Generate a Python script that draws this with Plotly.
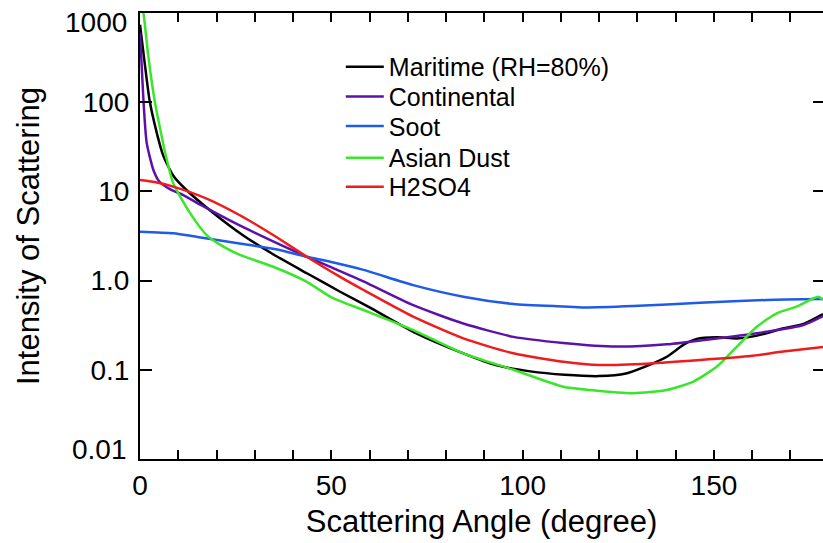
import plotly.graph_objects as go

# ---- data ----
maritime_x = [0, 1.2, 2.5, 4.4, 6.1, 8.7, 12, 19, 27, 35, 43.6, 52.3, 60, 71.4, 84.5, 93, 102, 111, 120, 127, 133, 137.7, 142, 145.5, 150.7, 156, 161, 168, 173.4, 178.5]
maritime_y = [740, 280, 105, 45, 25, 15, 10.5, 5.8, 3.2, 1.95, 1.21, 0.75, 0.50, 0.267, 0.153, 0.113, 0.096, 0.088, 0.085, 0.091, 0.113, 0.14, 0.19, 0.222, 0.231, 0.225, 0.24, 0.29, 0.326, 0.42]

continental_x = [0, 0.9, 1.75, 3.5, 5, 7.8, 11.3, 16, 25, 35.2, 43.6, 50.5, 58.4, 71.4, 84.5, 97.6, 110.6, 124.6, 137.7, 150.7, 163.8, 173.4, 178.5]
continental_y = [600, 105, 35, 17.4, 13, 10.6, 9.1, 7.0, 4.37, 2.7, 1.85, 1.38, 0.98, 0.53, 0.33, 0.234, 0.20, 0.182, 0.193, 0.225, 0.267, 0.318, 0.40]

soot_x = [0, 8.7, 15, 26, 35.5, 43.6, 49.7, 58.4, 71.4, 84.5, 97.6, 110.6, 116, 128.9, 146.4, 163.8, 178.5]
soot_y = [3.53, 3.39, 3.09, 2.6, 2.25, 1.85, 1.63, 1.32, 0.89, 0.66, 0.547, 0.513, 0.50, 0.519, 0.565, 0.607, 0.62]

dust_x = [0, 0.9, 2.2, 3.9, 5.5, 6.5, 8.7, 13.1, 17.4, 21.8, 26.1, 34.8, 43.6, 50, 58.4, 71.4, 84.5, 97.6, 110.6, 117.6, 128.9, 137.7, 144.6, 150.7, 156, 161.2, 166.4, 171.6, 176, 177.3, 178.5]
dust_y = [1500, 1000, 320, 100, 45, 28, 12.3, 5.7, 3.24, 2.4, 1.94, 1.43, 0.97, 0.65, 0.468, 0.279, 0.153, 0.10, 0.0646, 0.0594, 0.0546, 0.0594, 0.0736, 0.108, 0.182, 0.304, 0.43, 0.51, 0.634, 0.66, 0.61]

h2so4_x = [0, 4.4, 8.7, 17.4, 26.1, 34.8, 43.6, 52.3, 58.4, 71.4, 84.5, 97.6, 110.6, 120.2, 133.3, 146.4, 159.5, 168.1, 178.5]
h2so4_y = [13.4, 12.6, 11.3, 8.3, 5.4, 3.24, 1.85, 1.1, 0.785, 0.394, 0.225, 0.153, 0.123, 0.113, 0.118, 0.129, 0.143, 0.16, 0.18]

series_names = ["Maritime (RH=80%)", "Continental", "Soot", "Asian Dust", "H2SO4"]
series_colors = ["#000000", "#5c12a8", "#1f5be6", "#3ae62a", "#ee1c1c"]

y_tickvals = [0.01, 0.1, 1, 10, 100, 1000]
y_ticktext = ["0.01", "0.1", "1.0", "10", "100", "1000"]
x_tickvals = [0, 50, 100, 150]
x_ticktext = ["0", "50", "100", "150"]

FONT = "Liberation Sans, Arial, Helvetica, sans-serif"

fig = go.Figure()
data = [(maritime_x, maritime_y), (continental_x, continental_y), (soot_x, soot_y),
        (dust_x, dust_y), (h2so4_x, h2so4_y)]
legend_ids = ["legend", "legend2", "legend3", "legend4", "legend5"]
for (xs, ys), name, col, lg in zip(data, series_names, series_colors, legend_ids):
    fig.add_trace(go.Scatter(x=xs, y=ys, mode="lines", name=name, legend=lg,
                             line=dict(color=col, width=2.5, shape="spline", smoothing=0.6)))

# invisible trace to hold the right-hand tick axis
fig.add_trace(go.Scatter(x=[None], y=[None], yaxis="y2", showlegend=False, hoverinfo="skip"))

legend_rows = [0.879, 0.812, 0.746, 0.675, 0.610]
legend_style = {}
for lg, yy in zip(legend_ids, legend_rows):
    legend_style[lg] = dict(x=0.294, y=yy, xanchor="left", yanchor="middle",
                            font=dict(size=25, family=FONT, color="black"),
                            bgcolor="rgba(0,0,0,0)", itemwidth=38)

# the end labels (0.01 and 1000) sit inside the frame in the reference: draw them as
# annotations nudged inward, and leave their tick text empty
shown_ticktext = [t if v not in (y_tickvals[0], y_tickvals[-1]) else "" for v, t in zip(y_tickvals, y_ticktext)]
end_labels = [
    dict(x=0, xref="paper", y=3, yref="y", text=y_ticktext[-1], showarrow=False,
         xanchor="right", yanchor="middle", xshift=-11, yshift=-9, font=dict(size=28, family=FONT)),
    dict(x=0, xref="paper", y=-2, yref="y", text=y_ticktext[0], showarrow=False,
         xanchor="right", yanchor="middle", xshift=-11, yshift=10, font=dict(size=28, family=FONT)),
]

fig.update_layout(
    width=823, height=543,
    margin=dict(l=140, r=0, t=13, b=84),
    paper_bgcolor="white", plot_bgcolor="white",
    font=dict(family=FONT, color="black"),
    showlegend=True,
    annotations=end_labels,
    **legend_style,
    xaxis=dict(range=[0, 178.5], tickvals=x_tickvals, ticktext=x_ticktext, automargin=False,
               ticks="inside", ticklen=9, tickwidth=1.5, tickcolor="black",
               minor=dict(dtick=10, ticks="inside", ticklen=5, tickwidth=1.5, tickcolor="black", showgrid=False),
               showline=True, linewidth=2, linecolor="black", mirror="allticks",
               showgrid=False, zeroline=False, tickfont=dict(size=28),
               ticklabeloverflow="allow",
               title=dict(text="Scattering Angle (degree)", font=dict(size=31), standoff=11)),
    yaxis=dict(type="log", range=[-2, 3], tickvals=y_tickvals, ticktext=shown_ticktext, automargin=False,
               ticks="inside", ticklen=12, tickwidth=1.5, tickcolor="black",
               showline=True, linewidth=2, linecolor="black", mirror=False,
               showgrid=False, zeroline=False, tickfont=dict(size=28), ticklabelstandoff=3,
               ticklabeloverflow="allow",
               title=dict(text="Intensity of Scattering", font=dict(size=31), standoff=34)),
    yaxis2=dict(type="log", range=[-2, 3], overlaying="y", side="right", tickvals=y_tickvals,
                ticks="inside", ticklen=10, tickwidth=1.5, tickcolor="black", automargin=False,
                showticklabels=False, showline=False, showgrid=False, zeroline=False),
)

# remove the browser's default 8px page margin so the figure sits at the window's corner
fig.write_html("out.html", config={"displayModeBar": False},
               post_script="document.body.style.margin='0';")
